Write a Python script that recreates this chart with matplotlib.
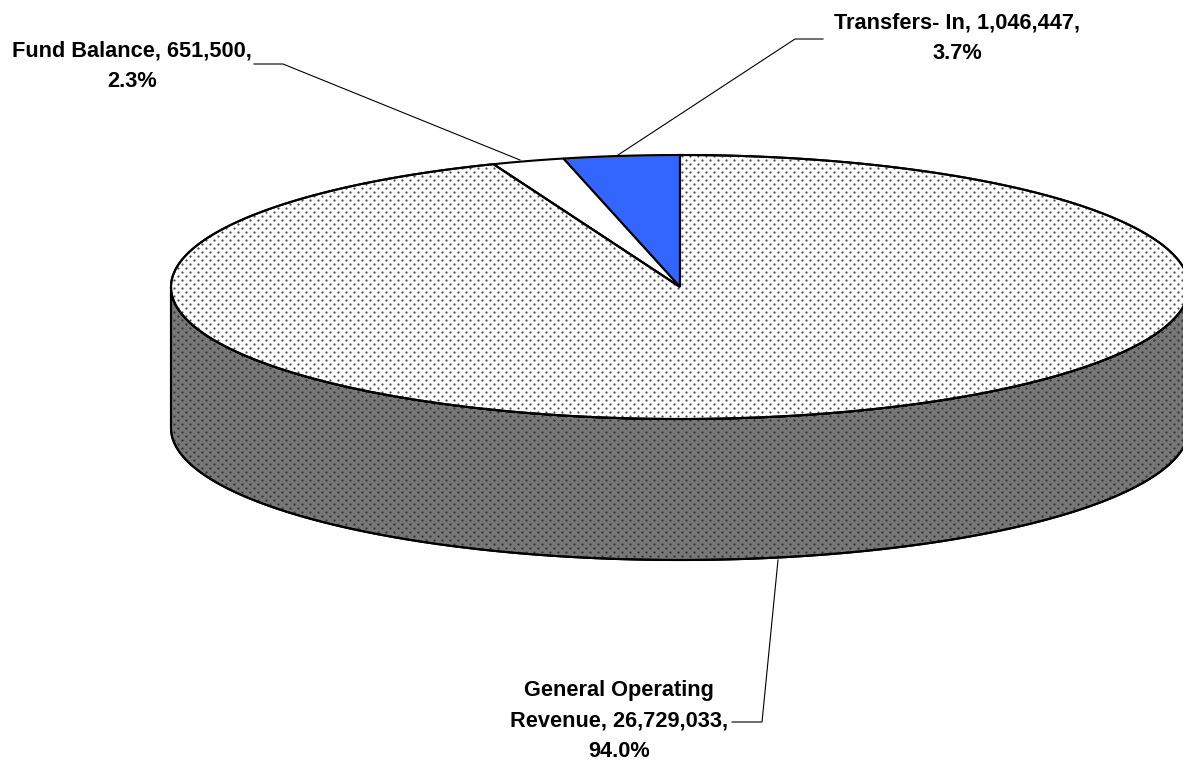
import numpy as np
import matplotlib
matplotlib.use("Agg")
import matplotlib.pyplot as plt
from matplotlib.patches import Polygon

# slices, counter clockwise from 12 o'clock
categories = ["Transfers- In", "Fund Balance", "General Operating Revenue"]
values = [1046447, 651500, 26729033]
percents = ["3.7%", "2.3%", "94.0%"]

label_text = [
    "Transfers- In, 1,046,447,\n3.7%",
    "Fund Balance, 651,500,\n2.3%",
    "General Operating\nRevenue, 26,729,033,\n94.0%",
]

W, H = 1183, 761
CX, CY = 680, 287      # centre of the top ellipse, px
RX, RY = 509, 132
DEPTH = 141

plt.rcParams['font.family'] = ['Liberation Sans', 'DejaVu Sans']

fig = plt.figure(figsize=(W / 100, H / 100), dpi=100)
ax = fig.add_axes([0, 0, 1, 1])
ax.set_xlim(0, W)
ax.set_ylim(H, 0)
ax.axis('off')


def rim(a0, a1, n=300, dy=0):
    # a is degrees counter clockwise from the top of the pie
    a = np.radians(np.linspace(a0, a1, n))
    return np.column_stack([CX - RX * np.sin(a), CY + dy - RY * np.cos(a)])


def dots(patch, color):
    # print style dot screen, staggered rows
    xs, ys = [], []
    for r, y in enumerate(np.arange(0, H, 4.0)):
        x = np.arange(2 if r % 2 else 6, W, 8.0)
        xs.append(x)
        ys.append(np.full(x.shape, y))
    sc = ax.scatter(np.concatenate(xs), np.concatenate(ys), s=2.6, c=color,
                    linewidths=0, zorder=patch.get_zorder() + 0.1)
    sc.set_clip_path(patch)


fracs = np.array(values) / np.sum(values)
edges = np.concatenate([[0], np.cumsum(fracs) * 360])

# side wall, only the front half of the rim shows
front = rim(90, 270)
wall = np.vstack([front, rim(270, 90, dy=DEPTH)])
side = Polygon(wall, closed=True, fc='#777777', ec='black', lw=1.5, zorder=1)
ax.add_patch(side)
dots(side, '#333333')
ax.add_patch(Polygon(wall, closed=True, fc='none', ec='black', lw=1.5, zorder=1.5))

fills = ['#3366ff', 'white', 'white']
for i in range(len(values)):
    pts = np.vstack([[CX, CY], rim(edges[i], edges[i + 1])])
    p = Polygon(pts, closed=True, fc=fills[i], ec='black', lw=1.5, zorder=2 + i * 0.01)
    ax.add_patch(p)
    if i == 2:
        dots(p, '#4a4a4a')
        # outline again, above the dots
        ax.add_patch(Polygon(pts, closed=True, fc='none', ec='black', lw=1.5, zorder=3))

# leader lines
leaders = [
    ([823, 795, 618], [39, 39, 155]),
    ([254, 283, 520], [64, 64, 160]),
    ([778, 762, 732], [560, 722, 722]),
]
for lx, ly in leaders:
    ax.plot(lx, ly, color='black', lw=0.8, zorder=4)

label_pos = [(957, 38), (132, 66), (619, 721)]
for txt, (x, y) in zip(label_text, label_pos):
    ax.text(x, y, txt, ha='center', va='center', fontsize=15.7, fontweight='bold',
            linespacing=1.58, color='black', zorder=5)

fig.savefig("out.png", dpi=100)
